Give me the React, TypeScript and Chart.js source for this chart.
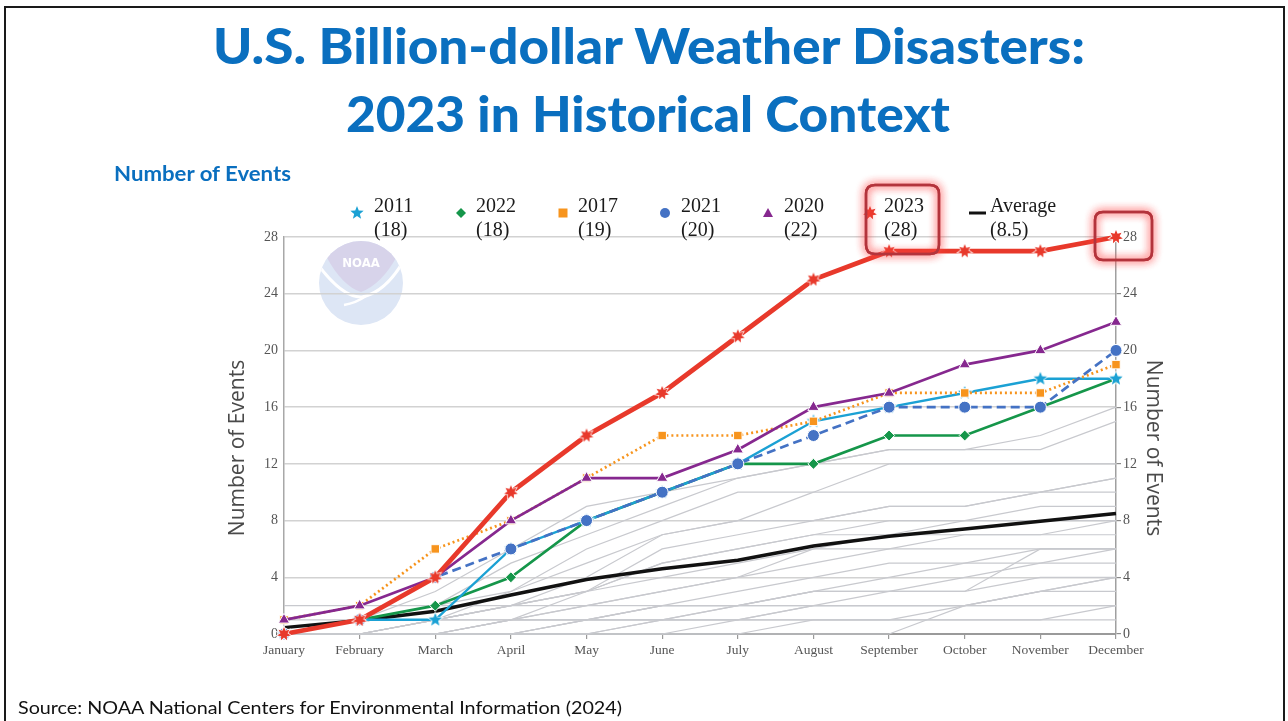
import React, { useEffect, useLayoutEffect, useRef } from 'react';
import { Chart, registerables } from 'chart.js';

Chart.register(...registerables);

// ---------------- data ----------------
const months = ['January', 'February', 'March', 'April', 'May', 'June', 'July', 'August', 'September', 'October', 'November', 'December'];

const y2011 = [0, 1, 1, 6, 8, 10, 12, 15, 16, 17, 18, 18];
const y2022 = [0, 1, 2, 4, 8, 10, 12, 12, 14, 14, 16, 18];
const y2017 = [1, 2, 6, 8, 11, 14, 14, 15, 17, 17, 17, 19];
const y2021 = [0, 1, 4, 6, 8, 10, 12, 14, 16, 16, 16, 20];
const y2020 = [1, 2, 4, 8, 11, 11, 13, 16, 17, 19, 20, 22];
const y2023 = [0, 1, 4, 10, 14, 17, 21, 25, 27, 27, 27, 28];
const yAverage = [0.45, 0.95, 1.6, 2.75, 3.85, 4.6, 5.2, 6.2, 6.9, 7.4, 7.95, 8.5];

// other historical years (gray)
const otherYears: number[][] = [
  [0, 1, 3, 6, 9, 10, 11, 12, 13, 13, 14, 16],
  [0, 1, 2, 5, 7, 9, 11, 12, 13, 13, 13, 15],
  [0, 0, 1, 3, 6, 8, 10, 10, 12, 12, 12, 12],
  [0, 1, 2, 3, 5, 7, 8, 10, 10, 10, 10, 11],
  [0, 0, 1, 2, 4, 7, 8, 8, 9, 9, 10, 11],
  [0, 0, 1, 2, 3, 6, 7, 8, 9, 9, 10, 10],
  [0, 1, 1, 2, 3, 5, 6, 7, 8, 8, 9, 9],
  [0, 0, 1, 2, 3, 5, 6, 7, 7, 8, 8, 8],
  [0, 0, 0, 1, 3, 4, 5, 6, 7, 7, 7, 8],
  [0, 0, 0, 1, 2, 3, 4, 6, 6, 7, 7, 7],
  [0, 0, 0, 1, 2, 3, 4, 5, 6, 6, 6, 6],
  [0, 0, 0, 0, 1, 2, 3, 4, 5, 5, 6, 6],
  [0, 0, 0, 1, 1, 2, 2, 3, 4, 5, 5, 6],
  [0, 0, 0, 0, 1, 2, 2, 3, 3, 3, 6, 6],
  [0, 0, 0, 0, 0, 1, 2, 3, 3, 4, 5, 5],
  [0, 0, 0, 0, 0, 1, 1, 2, 3, 3, 4, 4],
  [0, 0, 0, 0, 0, 0, 0, 1, 1, 2, 3, 4],
  [0, 0, 1, 1, 1, 1, 2, 2, 2, 2, 3, 3],
  [0, 0, 0, 0, 0, 0, 1, 1, 1, 1, 1, 2],
  [0, 0, 0, 0, 1, 1, 1, 2, 2, 2, 2, 2],
  [0, 0, 0, 0, 0, 0, 0, 0, 0, 2, 3, 4],
  [1, 1, 1, 1, 1, 1, 1, 1, 1, 1, 1, 1],
  [2, 2, 2, 2, 2, 2, 2, 2, 2, 2, 2, 2],
];

const yTickStep = 4;
const yMax = 28;

const legendYears = ['2011', '2022', '2017', '2021', '2020', '2023', 'Average'];
const legendTotals = ['(18)', '(18)', '(19)', '(20)', '(22)', '(28)', '(8.5)'];

const titleLine1 = 'U.S. Billion-dollar Weather Disasters:';
const titleLine2 = '2023 in Historical Context';
const subTitle = 'Number of Events';
const axisTitle = 'Number of Events';
const sourceText = 'Source: NOAA National Centers for Environmental Information (2024)';

// ---------------- helpers ----------------
function makeStar(fill: string, spikes: number, outer: number, inner: number) {
  const size = Math.ceil(outer * 2 + 4);
  const c = document.createElement('canvas');
  c.width = size;
  c.height = size;
  const ctx = c.getContext('2d')!;
  const cx = size / 2, cy = size / 2;
  ctx.beginPath();
  for (let i = 0; i < spikes * 2; i++) {
    const r = i % 2 === 0 ? outer : inner;
    const a = -Math.PI / 2 + (i * Math.PI) / spikes;
    const x = cx + r * Math.cos(a), y = cy + r * Math.sin(a);
    if (i === 0) ctx.moveTo(x, y); else ctx.lineTo(x, y);
  }
  ctx.closePath();
  ctx.strokeStyle = 'rgba(255,255,255,0.95)';
  ctx.lineWidth = 1.5;
  ctx.stroke();
  ctx.fillStyle = fill;
  ctx.fill();
  return c;
}

function roundRectPath(ctx: CanvasRenderingContext2D, x: number, y: number, w: number, h: number, r: number) {
  ctx.beginPath();
  ctx.moveTo(x + r, y);
  ctx.lineTo(x + w - r, y);
  ctx.quadraticCurveTo(x + w, y, x + w, y + r);
  ctx.lineTo(x + w, y + h - r);
  ctx.quadraticCurveTo(x + w, y + h, x + w - r, y + h);
  ctx.lineTo(x + r, y + h);
  ctx.quadraticCurveTo(x, y + h, x, y + h - r);
  ctx.lineTo(x, y + r);
  ctx.quadraticCurveTo(x, y, x + r, y);
  ctx.closePath();
}

function FitText(props: { text: string; left: number; top: number; width: number; font: string; color: string }) {
  const ref = useRef<HTMLSpanElement>(null);
  useLayoutEffect(() => {
    const fit = () => {
      const el = ref.current;
      if (!el) return;
      el.style.transform = 'none';
      const w = el.getBoundingClientRect().width;
      if (w > 0) el.style.transform = `scaleX(${props.width / w})`;
    };
    fit();
    if ((document as any).fonts && (document as any).fonts.ready) (document as any).fonts.ready.then(fit);
  }, [props.text, props.width, props.font]);
  return (
    <span
      ref={ref}
      style={{
        position: 'absolute',
        left: props.left,
        top: props.top,
        font: props.font,
        color: props.color,
        whiteSpace: 'nowrap',
        transformOrigin: '0 0',
        lineHeight: 1,
        display: 'inline-block',
      }}
    >
      {props.text}
    </span>
  );
}

export default function App() {
  const canvasRef = useRef<HTMLCanvasElement>(null);

  useEffect(() => {
    const canvas = canvasRef.current;
    if (!canvas) return;

    const red = '#e8392b';
    const purple = '#86288f';
    const blue = '#4472c4';
    const orange = '#f7941d';
    const cyan = '#1ba1d4';
    const green = '#15964a';

    const star2023 = makeStar(red, 7, 7, 3.6);
    const star2011 = makeStar(cyan, 5, 7, 3);

    const gray = otherYears.map((d) => ({
      label: '',
      data: d,
      borderColor: '#c8c9ce',
      borderWidth: 1.2,
      pointRadius: 0,
      order: 50,
      clip: false as any,
    }));

    const mk = (label: string, data: number[], color: string, width: number, pointStyle: any, radius: number, dash: number[], order: number) => ({
      label,
      data,
      borderColor: color,
      backgroundColor: color,
      borderWidth: width,
      borderDash: dash,
      pointStyle,
      pointRadius: radius,
      pointBackgroundColor: color,
      pointBorderColor: '#ffffff',
      pointBorderWidth: 1,
      order,
      clip: false as any,
    });

    const datasets: any[] = [
      ...gray,
      { label: 'Average', data: yAverage, borderColor: '#111111', borderWidth: 3.5, pointRadius: 0, order: 40, clip: false },
      mk('2022', y2022, green, 2.7, 'rectRot', 5.5, [], 12),
      mk('2011', y2011, cyan, 2.4, star2011, 6, [], 11),
      mk('2017', y2017, orange, 2.7, 'rect', 6, [2, 3], 10),
      mk('2021', y2021, blue, 2.7, 'circle', 6, [9, 5], 9),
      mk('2020', y2020, purple, 2.7, 'triangle', 6.5, [], 8),
      mk('2023', y2023, red, 4.8, star2023, 7, [], 1),
    ];

    const decor = {
      id: 'decor',
      beforeDraw(chart: any) {
        const ctx: CanvasRenderingContext2D = chart.ctx;
        // NOAA logo (faded)
        const cx = 361, cy = 283, r = 42;
        ctx.save();
        ctx.beginPath();
        ctx.arc(cx, cy, r, 0, Math.PI * 2);
        ctx.fillStyle = '#dde6f5';
        ctx.fill();
        ctx.clip();
        ctx.beginPath();
        ctx.moveTo(326, 236);
        ctx.lineTo(326, 256);
        ctx.quadraticCurveTo(342, 286, 361, 292);
        ctx.quadraticCurveTo(382, 284, 397, 256);
        ctx.lineTo(397, 236);
        ctx.closePath();
        ctx.fillStyle = '#d7d3ea';
        ctx.fill();
        ctx.strokeStyle = '#ffffff';
        ctx.lineWidth = 3;
        ctx.beginPath();
        ctx.moveTo(316, 262);
        ctx.quadraticCurveTo(342, 298, 362, 297);
        ctx.quadraticCurveTo(386, 292, 404, 260);
        ctx.stroke();
        ctx.lineWidth = 2.5;
        ctx.beginPath();
        ctx.moveTo(366, 296);
        ctx.quadraticCurveTo(356, 303, 344, 305);
        ctx.stroke();
        ctx.fillStyle = '#ffffff';
        ctx.font = 'bold 13px "DejaVu Sans Condensed", "DejaVu Sans", sans-serif';
        ctx.textAlign = 'center';
        ctx.textBaseline = 'middle';
        ctx.fillText('NOAA', cx, 264);
        ctx.restore();
      },
      afterDraw(chart: any) {
        const ctx: CanvasRenderingContext2D = chart.ctx;
        ctx.save();
        // axis titles
        ctx.fillStyle = '#4a4a4a';
        ctx.font = '21px "Open Sans", sans-serif';
        ctx.textAlign = 'center';
        ctx.textBaseline = 'middle';
        ctx.save();
        ctx.translate(238, 448);
        ctx.rotate(-Math.PI / 2);
        ctx.fillText(axisTitle, 0, 0);
        ctx.restore();
        ctx.save();
        ctx.translate(1153, 448);
        ctx.rotate(Math.PI / 2);
        ctx.fillText(axisTitle, 0, 0);
        ctx.restore();

        // legend
        const markerX = [357, 461, 563, 665, 768, 870, 977];
        const textX = [374, 476, 578, 681, 784, 884, 990];
        const my = 213;
        ctx.font = '20px "Liberation Serif", "DejaVu Serif", serif';
        ctx.textAlign = 'left';
        ctx.textBaseline = 'alphabetic';
        for (let i = 0; i < legendYears.length; i++) {
          const x = markerX[i];
          ctx.save();
          if (i === 0) ctx.drawImage(star2011, x - star2011.width / 2, my - star2011.height / 2);
          else if (i === 1) {
            ctx.fillStyle = green;
            ctx.beginPath();
            ctx.moveTo(x, my - 5); ctx.lineTo(x + 5, my); ctx.lineTo(x, my + 5); ctx.lineTo(x - 5, my); ctx.closePath();
            ctx.fill();
          } else if (i === 2) {
            ctx.fillStyle = orange;
            ctx.fillRect(x - 4.5, my - 4.5, 9, 9);
          } else if (i === 3) {
            ctx.fillStyle = blue;
            ctx.beginPath(); ctx.arc(x, my, 5, 0, Math.PI * 2); ctx.fill();
          } else if (i === 4) {
            ctx.fillStyle = purple;
            ctx.beginPath(); ctx.moveTo(x, my - 5); ctx.lineTo(x + 5, my + 4); ctx.lineTo(x - 5, my + 4); ctx.closePath(); ctx.fill();
          } else if (i === 5) {
            ctx.drawImage(star2023, x - star2023.width / 2, my - star2023.height / 2);
          } else {
            ctx.strokeStyle = '#111';
            ctx.lineWidth = 3;
            ctx.beginPath(); ctx.moveTo(969, my); ctx.lineTo(986, my); ctx.stroke();
          }
          ctx.restore();
          ctx.fillStyle = '#1a1a1a';
          ctx.fillText(legendYears[i], textX[i], 212);
          ctx.fillText(legendTotals[i], textX[i], 236);
        }

        // highlight boxes
        const boxes = [
          [866, 185, 73, 69, 9],
          [1095, 212, 57, 48, 8],
        ];
        for (const b of boxes) {
          ctx.save();
          ctx.shadowColor = 'rgba(255,70,70,0.9)';
          ctx.shadowBlur = 9;
          ctx.strokeStyle = '#b3343c';
          ctx.lineWidth = 2.5;
          roundRectPath(ctx, b[0], b[1], b[2], b[3], b[4]);
          ctx.stroke();
          ctx.stroke();
          ctx.restore();
        }
        ctx.restore();
      },
    };

    const tickFont = { family: '"Liberation Serif", "DejaVu Serif", serif', size: 14 };

    const chart = new Chart(canvas, {
      type: 'line',
      data: { labels: months, datasets },
      plugins: [decor],
      options: {
        responsive: false,
        animation: false,
        devicePixelRatio: 1,
        layout: { padding: { left: 200, right: 112, top: 237, bottom: 62 } },
        plugins: { legend: { display: false }, tooltip: { enabled: false }, title: { display: false } },
        elements: { line: { tension: 0 } },
        scales: {
          x: {
            type: 'category',
            offset: false,
            afterFit: (s: any) => { s.height = 25; },
            grid: { drawOnChartArea: false, drawTicks: true, tickLength: 5, color: '#9a9a9a', lineWidth: 1.2 },
            border: { color: '#9a9a9a', width: 2 },
            ticks: { color: '#555', font: { family: tickFont.family, size: 13.5 }, padding: 3, maxRotation: 0, autoSkip: false },
          },
          y: {
            type: 'linear',
            position: 'left',
            min: 0,
            max: yMax,
            afterFit: (s: any) => { s.width = 84; },
            grid: { color: '#d2d2d2', lineWidth: 1.5, drawTicks: false },
            border: { color: '#a8a8a8', width: 1.5 },
            ticks: { stepSize: yTickStep, color: '#555', font: tickFont, padding: 6 },
          },
          y2: {
            type: 'linear',
            position: 'right',
            min: 0,
            max: yMax,
            afterFit: (s: any) => { s.width = 60; },
            grid: { drawOnChartArea: false, drawTicks: true, tickLength: 5, color: '#8a8a8a', lineWidth: 1.2 },
            border: { color: '#a0a0a0', width: 1.5 },
            ticks: { stepSize: yTickStep, color: '#555', font: tickFont, padding: 2 },
          },
        },
      } as any,
    });

    return () => chart.destroy();
  }, []);

  return (
    <div style={{ position: 'fixed', left: 0, top: 0, width: 1288, height: 721, background: '#ffffff', overflow: 'hidden' }}>
      <div style={{ position: 'absolute', left: 4, top: 6, width: 1281, height: 760, border: '2px solid #1a1a1a', boxSizing: 'border-box' }} />
      <canvas ref={canvasRef} width={1288} height={721} style={{ position: 'absolute', left: 0, top: 0, width: 1288, height: 721 }} />
      <FitText text={titleLine1} left={213} top={20} width={872} font={'900 50px Lato, "Open Sans", sans-serif'} color="#0a6fbf" />
      <FitText text={titleLine2} left={346} top={88} width={604} font={'900 50px Lato, "Open Sans", sans-serif'} color="#0a6fbf" />
      <FitText text={subTitle} left={114} top={163} width={177} font={'bold 20px Lato, "Open Sans", sans-serif'} color="#0a6fbf" />
      <FitText text={sourceText} left={18} top={698} width={604} font={'18px Lato, "Open Sans", sans-serif'} color="#111111" />
    </div>
  );
}
